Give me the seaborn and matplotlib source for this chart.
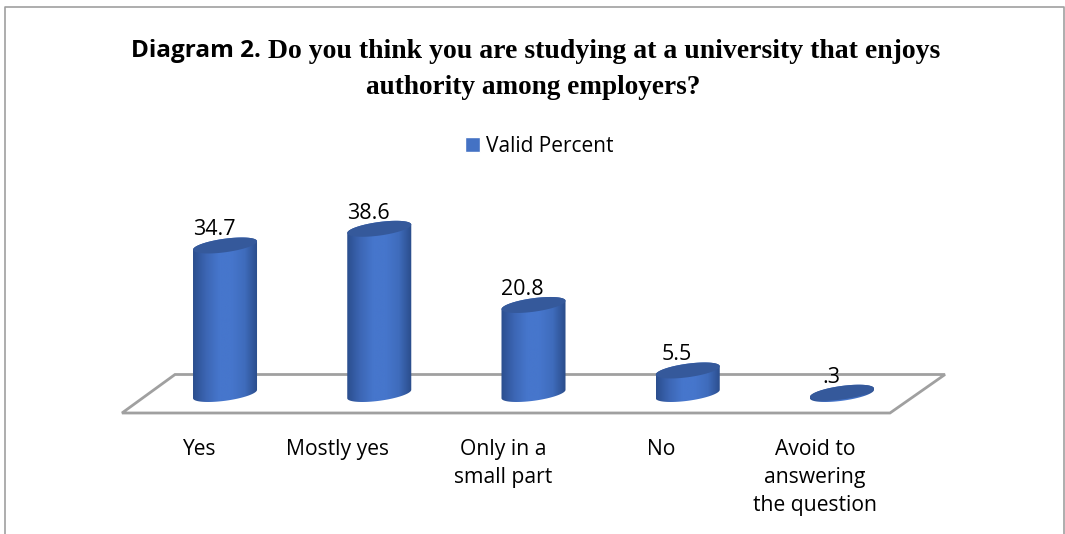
import numpy as np
import pandas as pd
import matplotlib
matplotlib.use("Agg")
import matplotlib.pyplot as plt
from matplotlib.colors import LinearSegmentedColormap
from matplotlib.image import AxesImage
from matplotlib.lines import Line2D
from matplotlib.patches import Patch, PathPatch, Polygon
from matplotlib.path import Path
from matplotlib.transforms import ScaledTranslation
import seaborn as sns

categories = ["Yes", "Mostly yes", "Only in a\nsmall part", "No", "Avoid to\nanswering\nthe question"]
values = [34.7, 38.6, 20.8, 5.5, 0.3]
value_labels = ["34.7", "38.6", "20.8", "5.5", ".3"]
series_name = "Valid Percent"
title_bold = "Diagram 2."
title_line1 = " Do you think you are studying at a university that enjoys"
title_line2 = "authority among employers?"
label_shift = [-26, -42, -30, -27, -27]

W, H = 1065, 534
SANS = "Open Sans"
SERIF = "Liberation Serif"
PX_PER_UNIT = 4.28


def fx(x):
    return x / W


def fy(y):
    return 1 - y / H


sns.set_theme(style="white")
plt.rcParams["font.family"] = SANS

fig = plt.figure(figsize=(W / 100, H / 100), dpi=100, facecolor="white")

# axes placed so 0 sits on the floor
left, right = 147.9, 919.1
base = 394
top_px = base - 45 * PX_PER_UNIT
ax = fig.add_axes([fx(left), fy(base), (right - left) / W, (base - top_px) / H])
ax.patch.set_visible(False)

df = pd.DataFrame({"answer": categories, "pct": values})
sns.barplot(data=df, x="answer", y="pct", color="#4472c4", width=0.415, saturation=1, ax=ax)
ax.set_xlabel("")
ax.set_ylabel("")
ax.set_yticks([])
sns.despine(ax=ax, left=True, bottom=True)

# frame and floor, these are just decoration
frame_col = "#a0a0a0"
fig.add_artist(Line2D([fx(5), fx(5), fx(1064), fx(1064)], [fy(534), fy(7), fy(7), fy(534)],
                      color=frame_col, lw=1.2, zorder=-2))
floor = Polygon([(fx(122), fy(413)), (fx(890), fy(413)), (fx(945), fy(374.5)), (fx(175), fy(374.5))],
                closed=True, fill=False, edgecolor=frame_col, lw=2, zorder=-1,
                transform=fig.transFigure)
fig.add_artist(floor)

# turn the seaborn bars into cylinders
body_cmap = LinearSegmentedColormap.from_list(
    "cyl", ["#2b4e8e", "#3c66b4", "#4676cc", "#4676cc", "#3f6cbc", "#2a4c8a"])
gradient = np.linspace(0, 1, 128).reshape(1, -1)
b = 6.8 / PX_PER_UNIT
s = 4.2 / PX_PER_UNIT
t = np.linspace(0, np.pi, 60)

for bar, lab in zip(list(ax.patches), value_labels):
    bar.set_visible(False)
    x0, w, h = bar.get_x(), bar.get_width(), bar.get_height()
    xc = x0 + w / 2
    a = w / 2
    # top half of the cap going left, then lower half of the foot going right
    xs = np.r_[xc + a * np.cos(t), xc + a * np.cos(t + np.pi)]
    ys = np.r_[h + s * np.cos(t) + b * np.sin(t), s * np.cos(t + np.pi) + b * np.sin(t + np.pi)]
    body = PathPatch(Path(np.c_[xs, ys]), facecolor="none", edgecolor="none", transform=ax.transData)
    ax.add_patch(body)
    img = ax.imshow(gradient, cmap=body_cmap, aspect="auto", zorder=3,
                    extent=(x0, x0 + w, -b - s, h + b + s))
    img.set_clip_path(body)
    img.set_clip_box(fig.bbox)
    cx = xc + a * np.cos(2 * t)
    cy = h + s * np.cos(2 * t) + b * np.sin(2 * t)
    ax.fill(cx, cy, color="#35599b", lw=0, zorder=4, clip_on=False)
    ax.annotate(lab, (xc, h), xytext=(-11 * 0.72, 10 * 0.72), textcoords="offset points",
                ha="center", va="baseline", fontsize=15.5, color="black", zorder=5)

ax.set_xlim(-0.5, 4.5)
ax.set_ylim(0, 45)
for child in ax.get_children():
    if isinstance(child, PathPatch):
        child.set_clip_on(False)

# category labels, multi-line, shifted left of their bars
ax.tick_params(axis="x", length=0, pad=0)
ax.set_xticks(range(len(categories)))
ax.set_xticklabels([])
for i, cat in enumerate(categories):
    off = ScaledTranslation(label_shift[i] / 100, -(439 - base) / 100, fig.dpi_scale_trans)
    ax.text(i, 0, cat, transform=ax.get_xaxis_transform() + off, ha="center", va="top",
            fontsize=15.2, color="black", linespacing=1.43, clip_on=False)

# legend
leg = ax.legend(handles=[Patch(facecolor="#4472c4", label=series_name)], loc="center",
                bbox_to_anchor=(fx(539), fy(146)), bbox_transform=fig.transFigure, frameon=False,
                fontsize=15, handlelength=0.72, handleheight=0.7, handletextpad=0.3, borderpad=0)
for txt in leg.get_texts():
    txt.set_color("black")

# title mixes two fonts so line one is laid out by measuring
renderer = fig.canvas.get_renderer()
t1 = fig.text(fx(131), fy(51), title_bold, fontsize=17.5, fontweight="bold", family=SANS,
              va="center", ha="left", color="black")
end = t1.get_window_extent(renderer).x1
fig.text(end / W, fy(51), title_line1, fontsize=20, fontweight="bold", family=SERIF,
         va="center", ha="left", color="black")
fig.text(fx(533), fy(88), title_line2, fontsize=19.6, fontweight="bold", family=SERIF,
         va="center", ha="center", color="black")

fig.savefig("out.png", dpi=100)
